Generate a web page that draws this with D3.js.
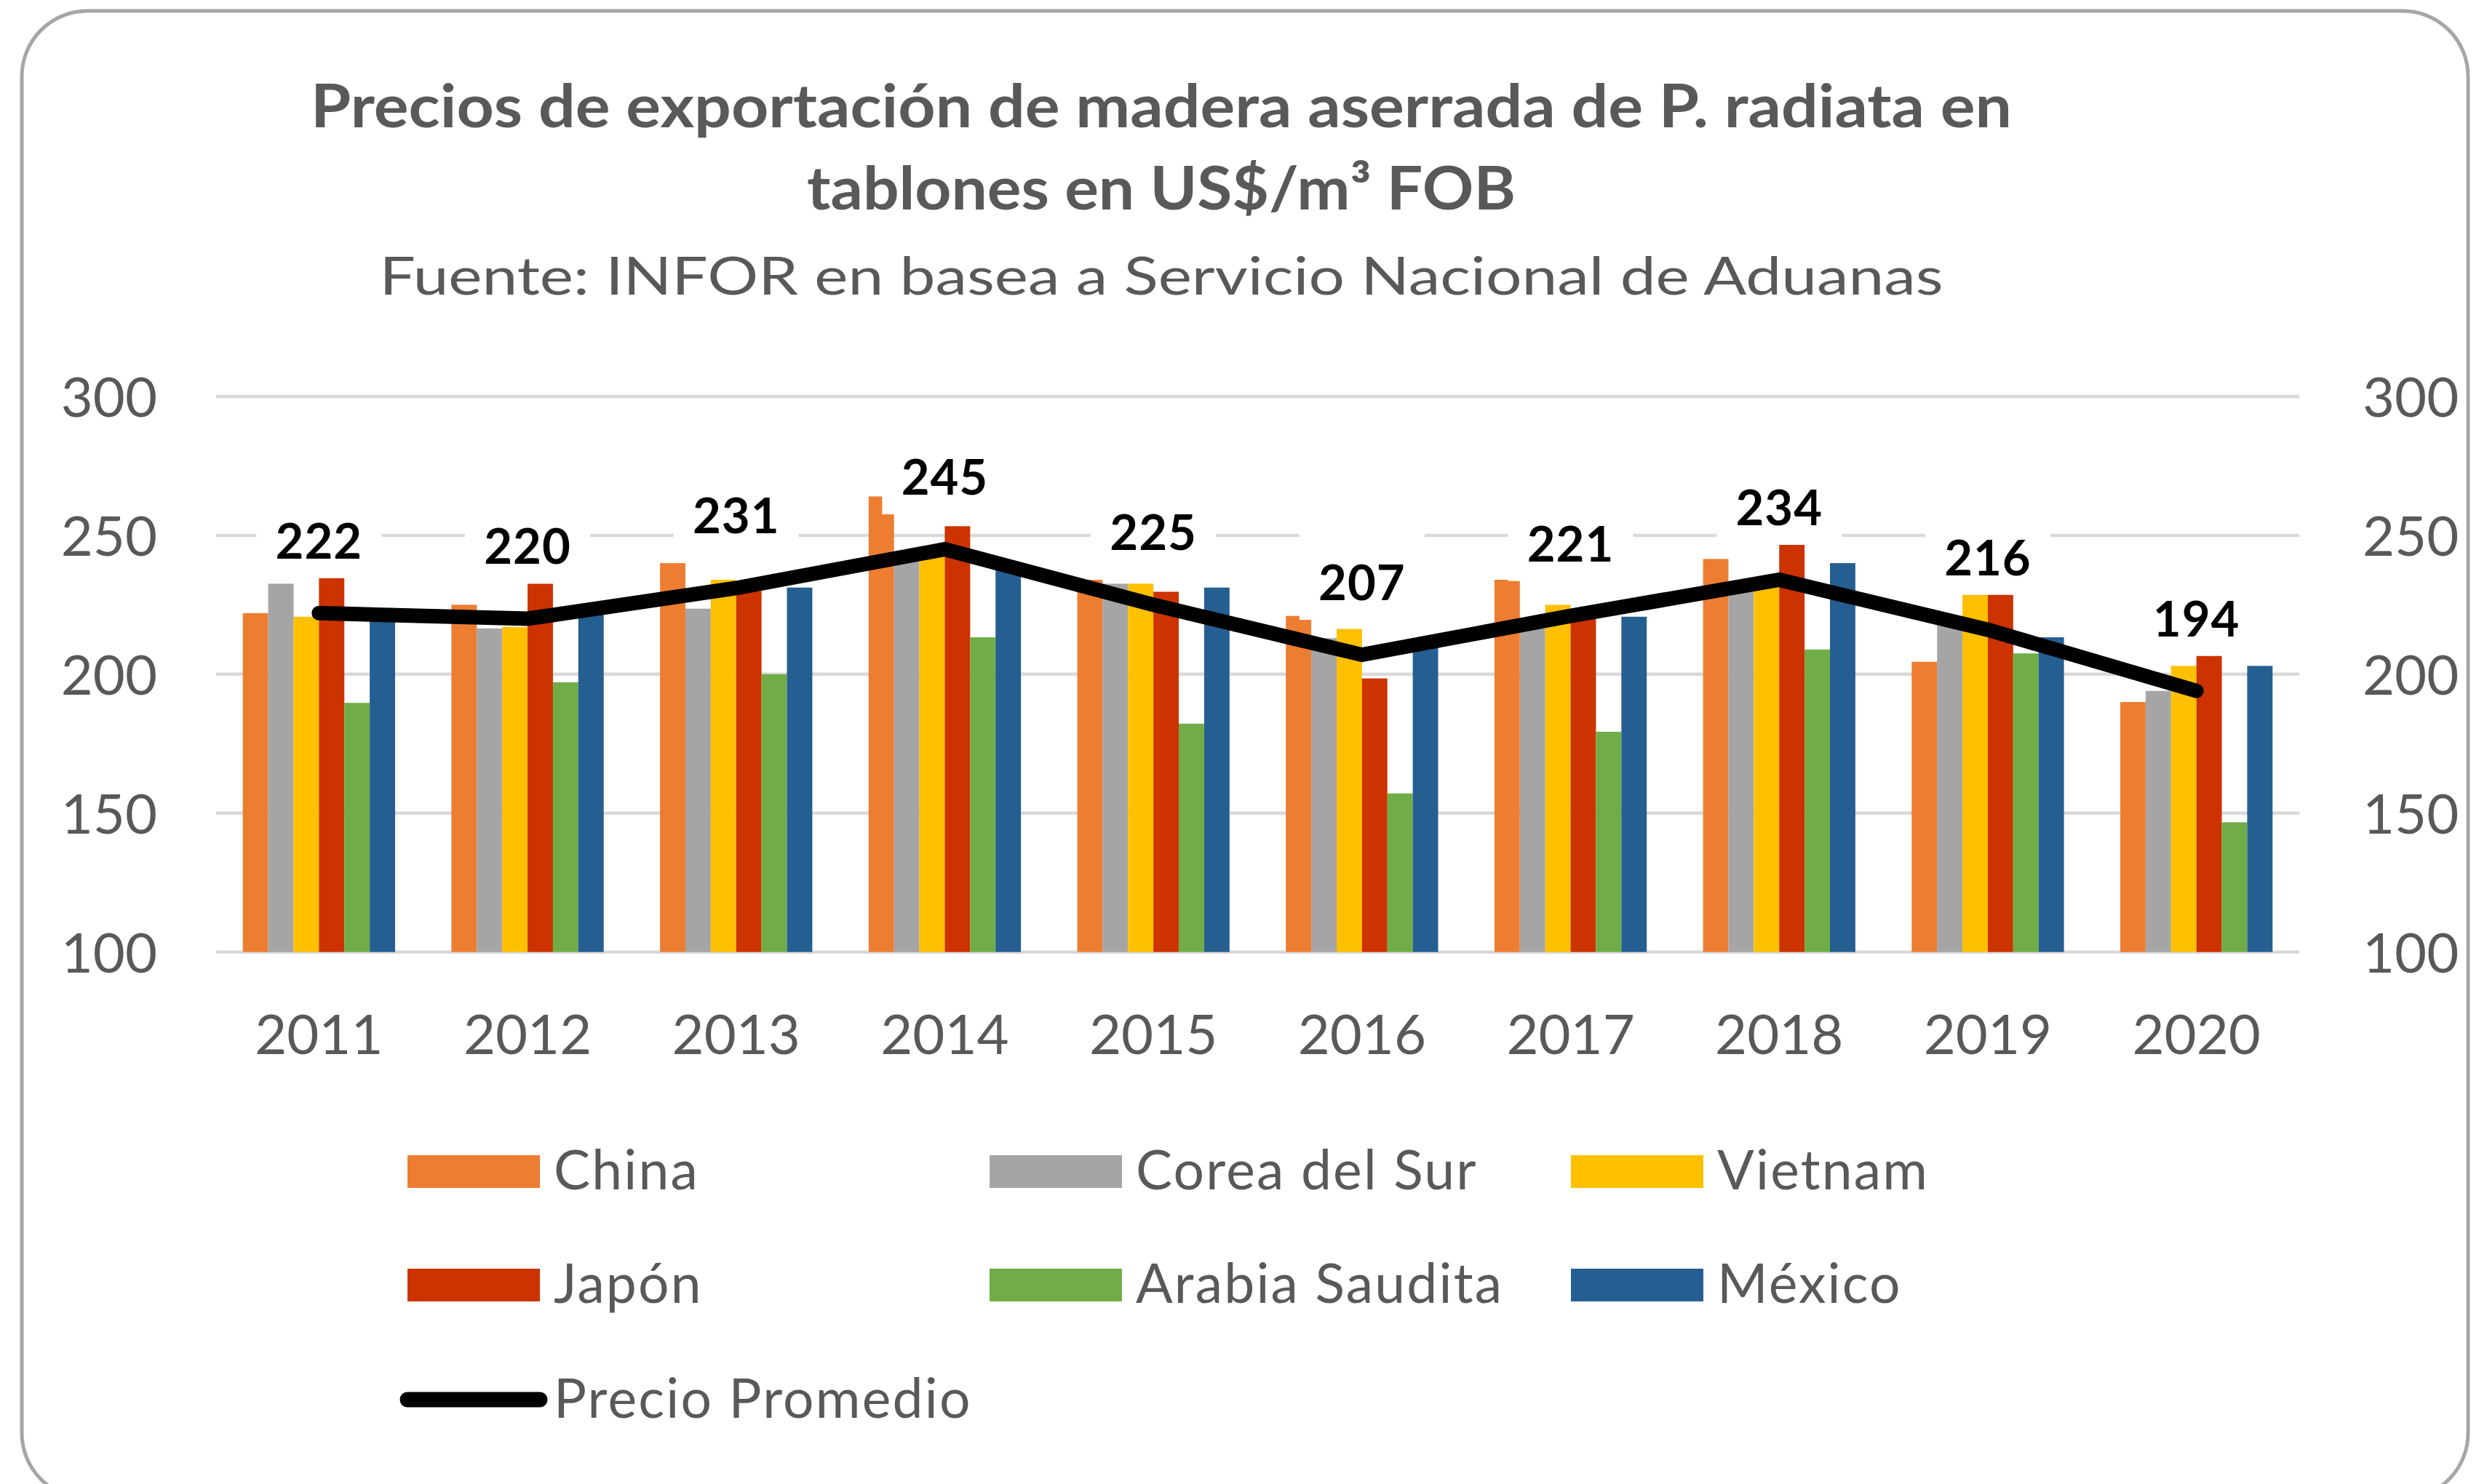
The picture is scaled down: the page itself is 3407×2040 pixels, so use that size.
<!DOCTYPE html>
<html><head><meta charset="utf-8">
<script src="https://cdn.jsdelivr.net/npm/d3@7"></script>
<style>body{margin:0;background:#fff}svg{display:block}</style>
</head><body>
<svg id="chart" width="3407" height="2040"></svg>
<script>
// ---------- data ----------
const years = ["2011","2012","2013","2014","2015","2016","2017","2018","2019","2020"];
const seriesNames = ["China","Corea del Sur","Vietnam","Japón","Arabia Saudita","México"];
const china   = [222, 225, 240, 264, 234, 221, 234, 241.5, 204.5, 190];
const corea   = [232.6, 216.5, 223.6, 242, 232.6, 213, 218, 231, 221, 194];
const vietnam = [220.7, 217, 234, 243, 232.6, 216.3, 225, 233, 230, 203];
const japon   = [238, 233, 230, 253.3, 229.7, 198.5, 222, 248, 230, 208];
const arabia  = [189.7, 197.1, 200, 213.3, 182.2, 157.1, 179.3, 208.9, 207.5, 146.7];
const mexico  = [220, 222, 231.2, 238, 231.2, 210, 220.7, 240, 213.3, 203];
const lineName = "Precio Promedio";
const promedio = [222, 220, 231, 245, 225, 207, 221, 234, 216, 194];
const yTicks = [100, 150, 200, 250, 300];
const titleLines = ["Precios de exportación de madera aserrada de P. radiata en", "tablones en US$/m³ FOB"];
const subtitle = "Fuente: INFOR en basea a Servicio Nacional de Aduanas";

// ---------- styles ----------
const seriesValues = [china, corea, vietnam, japon, arabia, mexico];
const colors = ["#ED7D31", "#A5A5A5", "#FFC000", "#CC3300", "#70AD47", "#255E91"];
const FONT = "Lato, 'Open Sans', sans-serif";
const GRAY = "#595959";

const svg = d3.select("#chart");
svg.append("rect").attr("width", 3407).attr("height", 2040).attr("fill", "#fff");
svg.append("rect").attr("x", 30).attr("y", 15).attr("width", 3362).attr("height", 2045)
  .attr("rx", 90).attr("ry", 90).attr("fill", "#fff").attr("stroke", "#A6A6A6").attr("stroke-width", 5);

// titles
const tl = [{t: titleLines[0], y: 175, w: 2338, bold: true, fs: 83},
            {t: titleLines[1], y: 288, w: 974, bold: true, fs: 83},
            {t: subtitle, y: 405, w: 2149, bold: false, fs: 72}];
tl.forEach(d => {
  svg.append("text").attr("x", 1596).attr("y", d.y).attr("text-anchor", "middle")
    .attr("font-family", FONT).attr("font-weight", d.bold ? 700 : 400).attr("font-size", d.fs)
    .attr("fill", GRAY).attr("textLength", d.w).attr("lengthAdjust", "spacingAndGlyphs").text(d.t);
});

// scales
const x = d3.scaleBand().domain(years).range([295, 3162]).paddingInner(0.27).paddingOuter(0.135);
const xs = d3.scaleBand().domain(seriesNames).range([0, x.bandwidth()]);
const y = d3.scaleLinear().domain([100, 300]).range([1308.7, 545]);

// gridlines
svg.append("g").selectAll("line").data(yTicks).join("line")
  .attr("x1", 297).attr("x2", 3160).attr("y1", d => y(d)).attr("y2", d => y(d))
  .attr("stroke", "#D9D9D9").attr("stroke-width", 4.5);

// axes
function styleAxis(g) {
  g.select(".domain").remove();
  g.selectAll(".tick line").remove();
  g.selectAll("text").attr("font-family", FONT).attr("font-size", 76).attr("fill", GRAY);
}
svg.append("g").attr("transform", "translate(297,0)")
  .call(d3.axisLeft(y).tickValues(yTicks).tickSize(0).tickPadding(81))
  .call(styleAxis).call(g => g.selectAll("text").attr("dy", "0.36em"));
svg.append("g").attr("transform", "translate(3160,0)")
  .call(d3.axisRight(y).tickValues(yTicks).tickSize(0).tickPadding(87))
  .call(styleAxis).call(g => g.selectAll("text").attr("dy", "0.36em"));
svg.append("g").attr("transform", `translate(0,${y(100)})`)
  .call(d3.axisBottom(x).tickSize(0))
  .call(styleAxis).call(g => g.selectAll("text").attr("dy", null).attr("y", 140));

// bars
const barData = [];
seriesNames.forEach((s, i) => years.forEach((yr, j) => barData.push({s, i, yr, v: seriesValues[i][j]})));
svg.append("g").selectAll("rect").data(barData).join("rect")
  .attr("x", d => x(d.yr) + xs(d.s)).attr("width", xs.bandwidth())
  .attr("y", d => y(d.v)).attr("height", d => y(100) - y(d.v))
  .attr("fill", d => colors[d.i]);

// line
const lineData = years.map((yr, j) => ({yr, v: promedio[j]}));
const line = d3.line().x(d => x(d.yr) + x.bandwidth() / 2).y(d => y(d.v));
svg.append("path").datum(lineData).attr("d", line).attr("fill", "none")
  .attr("stroke", "#000").attr("stroke-width", 20).attr("stroke-linecap", "round").attr("stroke-linejoin", "miter");

// labels
const lab = svg.append("g").selectAll("g").data(lineData).join("g")
  .attr("transform", d => `translate(${x(d.yr) + x.bandwidth() / 2},${y(d.v) - 75})`);
lab.append("rect").attr("x", -86).attr("y", -95).attr("width", 172).attr("height", 122).attr("fill", "#fff");
lab.append("text").attr("text-anchor", "middle").attr("font-family", FONT).attr("font-weight", 700)
  .attr("font-size", 67).attr("letter-spacing", 1).attr("fill", "#000").text(d => d.v);

// legend
const legItems = seriesNames.map((s, i) => ({name: s, color: colors[i], type: "bar"}))
  .concat([{name: lineName, color: "#000", type: "line"}]);
const colX = [560, 1360, 2159], rowY = [1588, 1744, 1902];
const lg = svg.append("g").selectAll("g").data(legItems).join("g")
  .attr("transform", (d, k) => `translate(${colX[k % 3]},${rowY[Math.floor(k / 3)]})`);
lg.filter(d => d.type === "bar").append("rect").attr("width", 182).attr("height", 45).attr("fill", d => d.color);
lg.filter(d => d.type === "line").append("line").attr("x1", 0).attr("x2", 182).attr("y1", 22).attr("y2", 22)
  .attr("stroke", d => d.color).attr("stroke-width", 21).attr("stroke-linecap", "round");
lg.append("text").attr("x", 201).attr("y", 47).attr("font-family", FONT).attr("font-size", 75)
  .attr("letter-spacing", 2.2).attr("fill", GRAY).text(d => d.name);
</script>
</body></html>
